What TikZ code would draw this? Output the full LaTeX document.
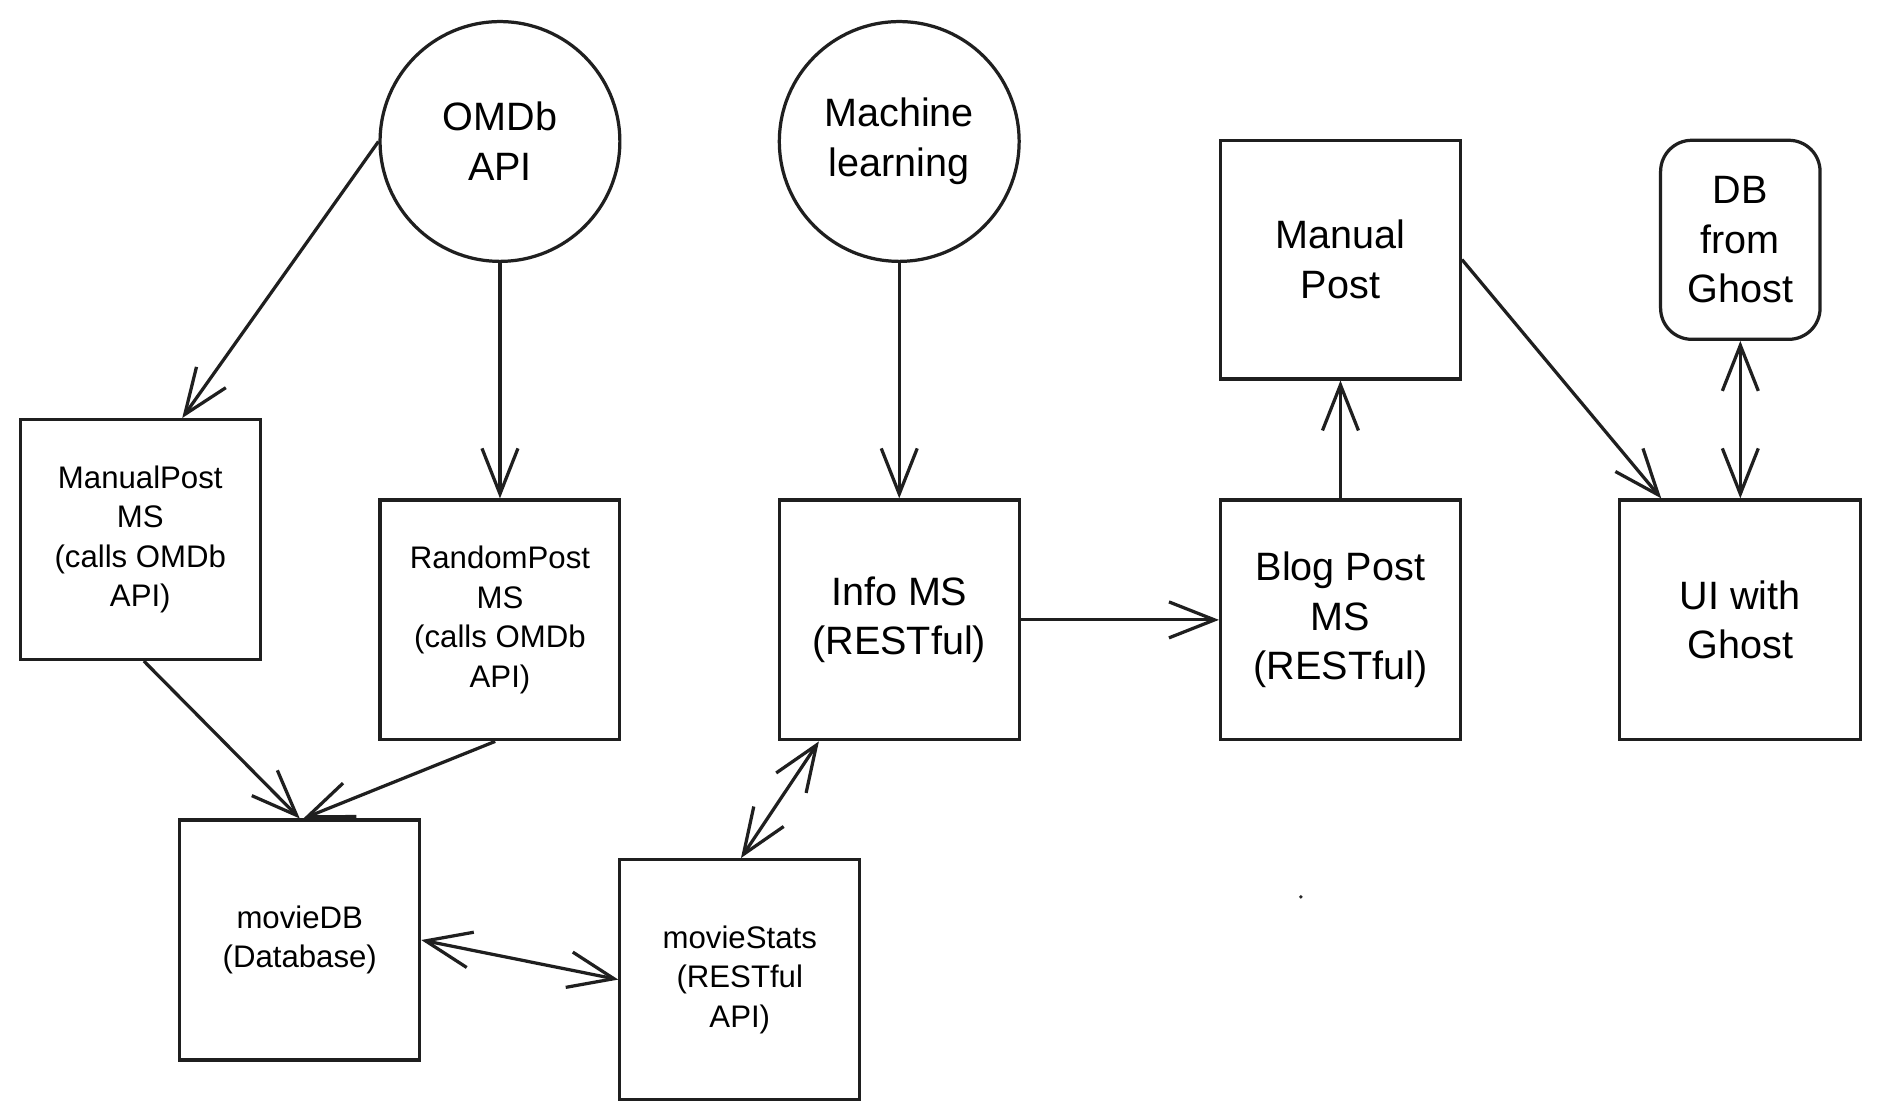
\documentclass[tikz,border=0pt]{standalone}
\usepackage{fontspec}
\setmainfont{Liberation Sans}
\usetikzlibrary{arrows.meta,calc}
\begin{document}
\begin{tikzpicture}[x=1pt,y=-1pt,
  ink/.style={line width=2.7pt, draw=black!88},
  box/.style={ink, rectangle, minimum width=200pt, minimum height=200pt, align=center, inner sep=0pt},
  circ/.style={ink, circle, minimum size=200pt, align=center, inner sep=0pt},
  small/.style={font=\fontsize{26}{33}\selectfont},
  big/.style={font=\fontsize{33}{41.5}\selectfont},
  conn/.style={ink, -{Straight Barb[length=38pt,width=30pt,line width=2.7pt]}},
  bconn/.style={ink, {Straight Barb[length=38pt,width=30pt,line width=2.7pt]}-{Straight Barb[length=38pt,width=30pt,line width=2.7pt]}}
]
\useasboundingbox (0,0) rectangle (1568,934.1);
\fill[white] (0,0) rectangle (1568,934.1);

\node[circ,big] (omdb) at (417,118) {OMDb\\API};
\node[circ,big] (ml) at (750,118) {Machine\\learning};
\node[box,big,minimum height=199pt] (manual) at (1118,216.5) {Manual\\Post};
\node[box,big,minimum width=133pt,minimum height=166pt,rounded corners=26pt] (dbg) at (1451.5,200) {DB\\from\\Ghost};

\node[box,small] (mp) at (117,450) {ManualPost\\MS\\(calls OMDb\\API)};
\node[box,small] (rp) at (417,517) {RandomPost\\MS\\(calls OMDb\\API)};
\node[box,big] (info) at (750,517) {Info MS\\(RESTful)};
\node[box,big] (blog) at (1118,517) {Blog Post\\MS\\(RESTful)};
\node[box,big,minimum width=201pt] (ui) at (1451.5,517) {UI with\\Ghost};
\node[box,small] (mdb) at (250,784) {movieDB\\(Database)};
\node[box,small] (ms) at (617,817) {movieStats\\(RESTful\\API)};

\fill[black!85] (1085,748) circle (1.6pt);

\draw[conn] (omdb.west) -- ([xshift=35pt]mp.north);
\draw[conn] (omdb.south) -- (rp.north);
\draw[conn] (ml.south) -- (info.north);
\draw[conn] ([xshift=3pt]mp.south) -- (mdb.north);
\draw[conn] ([xshift=-4pt]rp.south) -- ([xshift=3pt]mdb.north);
\draw[bconn] ([xshift=-67pt]info.south) -- ([xshift=1pt]ms.north);
\draw[bconn] (mdb.east) -- (ms.west);
\draw[conn] (info.east) -- (blog.west);
\draw[conn] (blog.north) -- (manual.south);
\draw[conn] (manual.east) -- ([xshift=-66pt]ui.north);
\draw[bconn] (dbg.south) -- (ui.north);
\end{tikzpicture}
\end{document}
